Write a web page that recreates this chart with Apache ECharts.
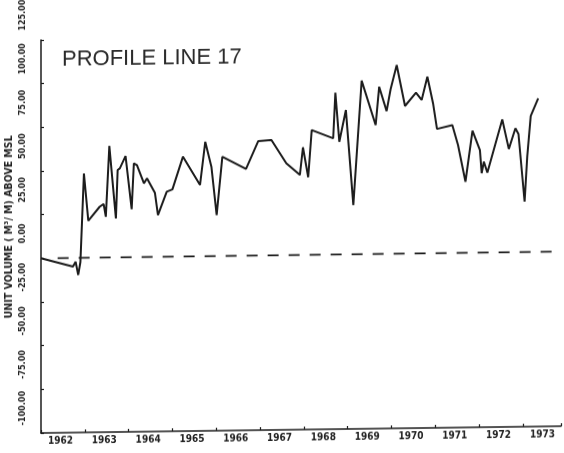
<!DOCTYPE html>
<html>
<head>
<meta charset="utf-8">
<script src="https://cdn.jsdelivr.net/npm/echarts@6/dist/echarts.min.js"></script>
<style>
  html, body { margin: 0; padding: 0; background: #fff; }
  /* the plotter sheet sits slightly askew: horizontal lines rise to the right */
  #chart { width: 564px; height: 453px; transform: skewY(-0.75deg); transform-origin: 41px 0; }
</style>
</head>
<body>
<div id="chart"></div>
<script>
// Survey dates (decimal years) along profile line 17
const surveyDates = [
  1962.00, 1962.73, 1962.79, 1962.85, 1962.90, 1962.98, 1963.08, 1963.34, 1963.43, 1963.48,
  1963.56, 1963.71, 1963.75, 1963.80, 1963.93, 1964.07, 1964.12, 1964.19, 1964.35, 1964.42,
  1964.60, 1964.67, 1964.87, 1965.00, 1965.24, 1965.63, 1965.75, 1965.89, 1966.01, 1966.14,
  1966.68, 1966.96, 1967.26, 1967.60, 1967.91, 1967.98, 1968.10, 1968.18, 1968.67, 1968.72,
  1968.81, 1968.96, 1969.13, 1969.32, 1969.64, 1969.72, 1969.89, 1969.98, 1970.12, 1970.31,
  1970.56, 1970.69, 1970.82, 1970.95, 1971.04, 1971.39, 1971.52, 1971.69, 1971.85, 1972.02,
  1972.06, 1972.11, 1972.19, 1972.53, 1972.68, 1972.83, 1972.90, 1973.04, 1973.10, 1973.14,
  1973.18, 1973.35
];

// Unit volume above mean sea level, m³/m
const unitVolume = [
  0.0, -5.0, -2.2, -9.8, -2.4, 48.3, 21.2, 29.1, 30.6, 23.3,
  63.8, 22.3, 50.0, 50.9, 57.9, 27.4, 53.7, 52.7, 42.2, 45.0,
  36.7, 23.9, 37.2, 38.5, 57.1, 40.8, 65.5, 51.2, 23.5, 56.8,
  49.6, 65.5, 66.0, 52.6, 45.8, 61.6, 44.4, 71.4, 66.5, 92.6,
  64.5, 82.6, 28.2, 99.3, 73.8, 95.7, 81.7, 94.1, 108.0, 84.5,
  92.0, 87.8, 101.1, 85.8, 71.1, 73.2, 61.7, 40.7, 69.8, 58.7,
  45.4, 52.0, 45.7, 76.1, 59.1, 70.9, 67.6, 28.8, 54.5, 54.9,
  77.8, 87.9
];

// Reference (zero volume) line extent
const zeroLineDates = [1962.38, 1973.74];
const zeroLineValues = [0, 0];

const ink = '#1c1c1c';
const tickFont = "'Liberation Sans Narrow', 'DejaVu Sans Condensed', 'DejaVu Sans Mono', monospace";

const chart = echarts.init(document.getElementById('chart'), null, { renderer: 'canvas' });

chart.setOption({
  backgroundColor: '#ffffff',
  animation: false,
  title: {
    text: 'PROFILE LINE 17',
    left: 57,
    top: 44,
    textStyle: { fontFamily: "'Liberation Sans', Arial, sans-serif", fontSize: 22, fontWeight: 'normal', color: '#2a2a2a' }
  },
  grid: { left: 41, right: 3, top: 40, bottom: 20, containLabel: false, outerBoundsMode: 'none' },
  xAxis: {
    type: 'value',
    min: 1962,
    max: 1973.87,
    interval: 1,
    splitLine: { show: false },
    axisLine: { onZero: false, lineStyle: { color: ink, width: 1.5 } },
    axisTick: { inside: true, length: 3, lineStyle: { color: ink, width: 1.2 } },
    axisLabel: {
      formatter: v => (Number.isInteger(v) ? String(v) : ''),
      showMinLabel: true,
      align: 'left',
      padding: [0, 0, 0, 7],
      margin: 3,
      fontFamily: tickFont,
      fontSize: 10,
      fontWeight: 'bold',
      color: '#222'
    }
  },
  yAxis: {
    type: 'value',
    position: 'left',
    min: -100,
    max: 125,
    interval: 25,
    name: 'UNIT VOLUME ( M³/ M) ABOVE MSL',
    nameLocation: 'middle',
    nameRotate: 90,
    nameGap: 32,
    nameMoveOverlap: false,
    nameTextStyle: {
      fontFamily: tickFont,
      fontSize: 10.5,
      fontWeight: 'bold',
      color: '#222',
      align: 'center',
      verticalAlign: 'middle',
      padding: [0, 0, 0, 20]
    },
    splitLine: { show: false },
    axisLine: { show: true, onZero: false, lineStyle: { color: ink, width: 1.5 } },
    axisTick: { show: true, inside: true, length: 3, lineStyle: { color: ink, width: 1.2 } },
    axisLabel: {
      rotate: 90,
      formatter: v => v.toFixed(2),
      showMinLabel: true,
      showMaxLabel: true,
      align: 'center',
      verticalAlign: 'middle',
      padding: [0, 0, 0, 50],
      margin: 18,
      fontFamily: tickFont,
      fontSize: 9,
      fontWeight: 'bold',
      color: '#222'
    }
  },
  series: [
    {
      type: 'line',
      data: surveyDates.map((d, i) => [d, unitVolume[i]]),
      symbol: 'none',
      lineStyle: { color: ink, width: 2 },
      z: 3
    },
    {
      type: 'line',
      data: zeroLineDates.map((d, i) => [d, zeroLineValues[i]]),
      symbol: 'none',
      lineStyle: { color: ink, width: 1.8, type: [11, 10] },
      z: 2
    }
  ]
});
</script>
</body>
</html>
